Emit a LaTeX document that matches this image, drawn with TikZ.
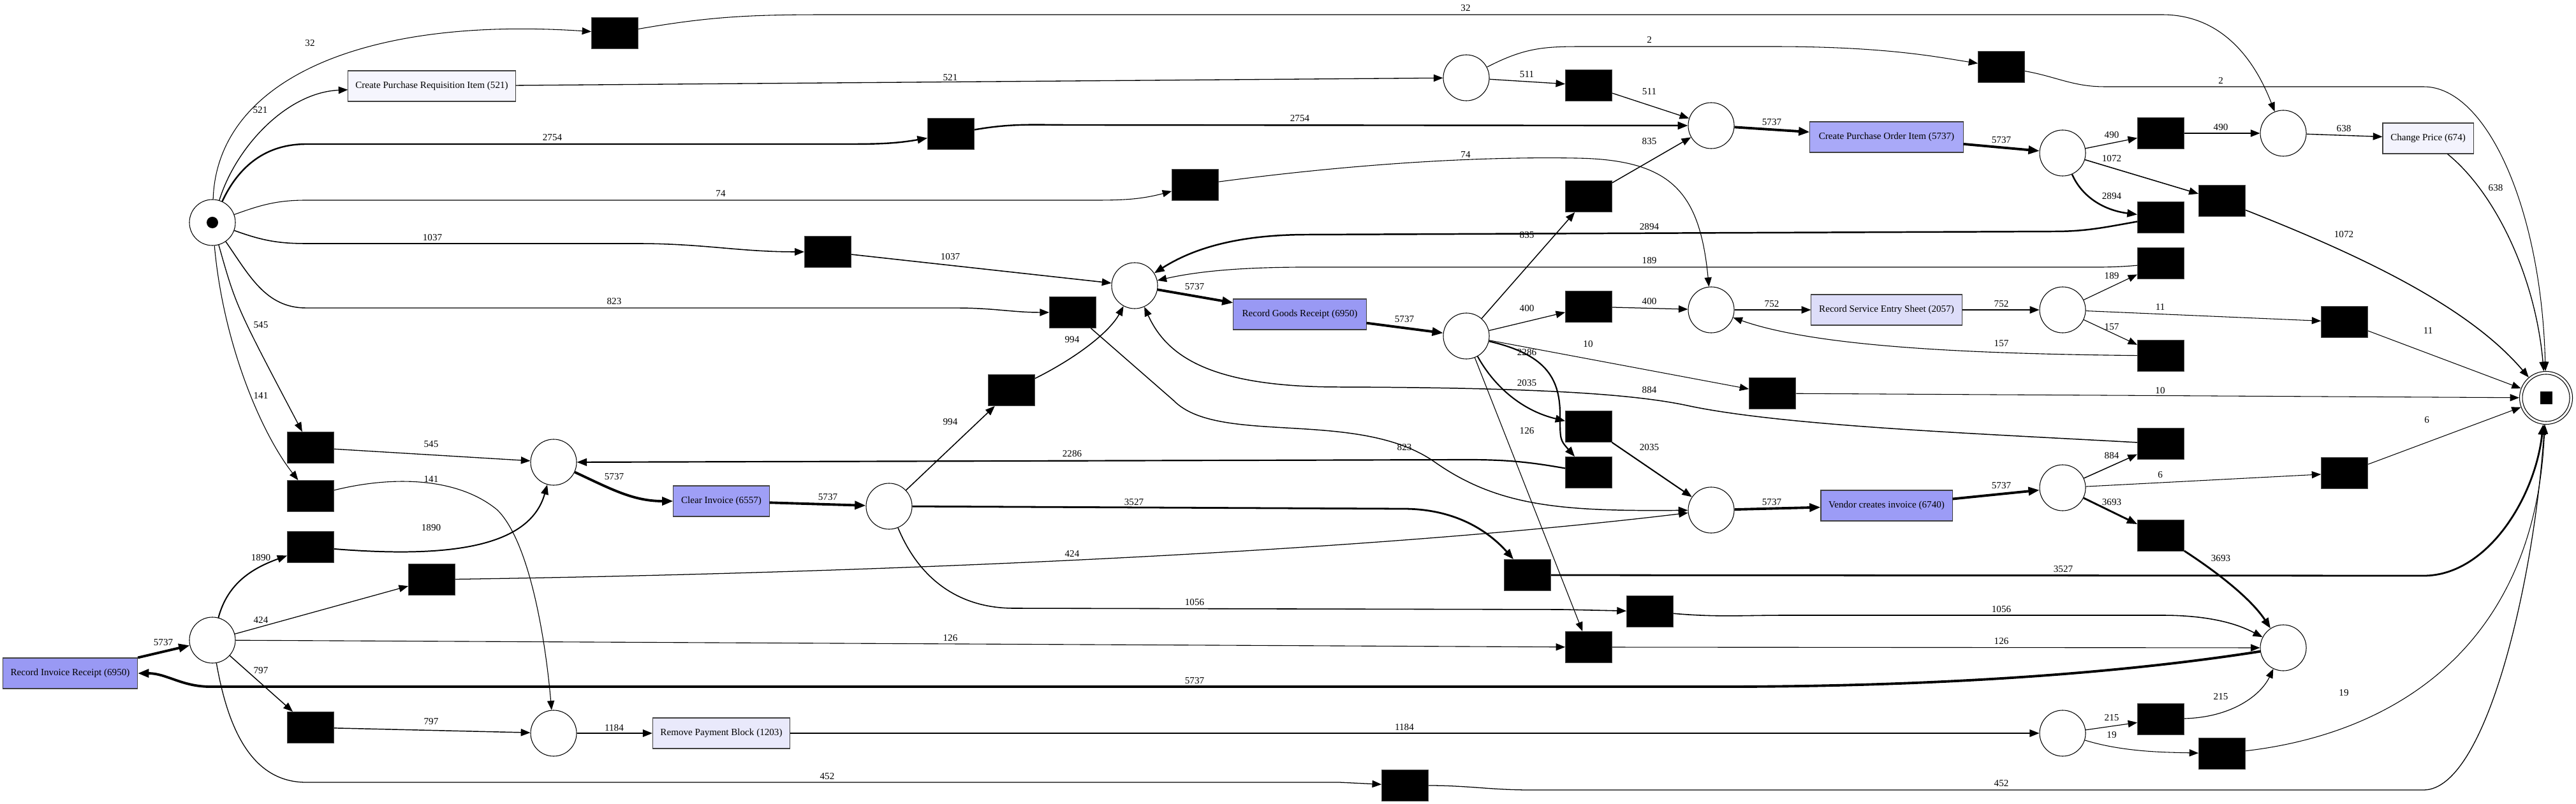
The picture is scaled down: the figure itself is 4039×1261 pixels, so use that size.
\documentclass[tikz,border=0pt]{standalone}
\usepackage{fontspec}
\setmainfont{Liberation Serif}
\usetikzlibrary{arrows.meta}
\definecolor{c521}{HTML}{F5F5FD}
\definecolor{c674}{HTML}{F3F3FD}
\definecolor{c1203}{HTML}{E9E9FB}
\definecolor{c2057}{HTML}{DDDDF9}
\definecolor{c5737}{HTML}{A9A9F8}
\definecolor{c6557}{HTML}{9F9FF6}
\definecolor{c6740}{HTML}{9C9CF6}
\definecolor{c6950}{HTML}{9999F4}

\begin{document}
\begin{tikzpicture}[x=0.01cm,y=-0.01cm,
  every node/.style={font=\fontsize{4.3}{5}\selectfont},
  place/.style={circle,draw,line width=0.3pt,minimum size=0.72cm,inner sep=0pt},
  trans/.style={rectangle,fill=black,draw=black!70,line width=0.2pt,minimum width=0.73cm,minimum height=0.49cm,inner sep=0pt},
  act/.style={rectangle,draw=black!75,line width=0.3pt,minimum height=0.48cm,inner sep=0pt},
  lbl/.style={inner sep=0pt},
  ew/.style={line width={0.3pt+0.8pt*#1/5737}},
  >={Triangle[length=3.8pt 1,width=3pt 0.6]}]
  \useasboundingbox (0,0) rectangle (4039,1261);

  % places
  \node[place] (src) at (333,349) {};
  \node[circle,fill=black,inner sep=0pt,minimum size=0.18cm] (tok) at (src) {};
  \node[place] (p1) at (2299,122) {};
  \node[place] (p2) at (2683,197) {};
  \node[place] (p3) at (3580,209) {};
  \node[place] (p4) at (3234,240) {};
  \node[place] (p5) at (868,725) {};
  \node[place] (p6) at (1779,448) {};
  \node[place] (p7) at (1394,794) {};
  \node[place] (p8) at (2299,527) {};
  \node[place] (p9) at (2683,486) {};
  \node[place] (p10) at (2683,800) {};
  \node[place] (p11) at (3234,486) {};
  \node[place] (p12) at (3234,765) {};
  \node[place] (p13) at (333,1004) {};
  \node[place] (p14) at (868,1150) {};
  \node[place] (p15) at (3580,1016) {};
  \node[place] (p16) at (3234,1150) {};
  \node[place,minimum size=0.83cm] (sink) at (3992,624) {};
  \node[place,minimum size=0.74cm] (sinkin) at (sink) {};
  \node[fill=black,inner sep=0pt,minimum size=0.19cm] (sinkdot) at (sink) {};

  % silent transitions
  \node[trans] (t32) at (964,52) {};
  \node[trans] (t2754) at (1491,210) {};
  \node[trans] (t74) at (1874,290) {};
  \node[trans] (t1037) at (1298,395) {};
  \node[trans] (t823) at (1682,490) {};
  \node[trans] (t545) at (487,702) {};
  \node[trans] (t141) at (487,778) {};
  \node[trans] (t1890) at (487,858) {};
  \node[trans] (t424) at (677,909) {};
  \node[trans] (t797) at (487,1141) {};
  \node[trans] (t511) at (2491,134) {};
  \node[trans] (t2) at (3138,105) {};
  \node[trans] (t835) at (2491,308) {};
  \node[trans] (t994) at (1586,612) {};
  \node[trans] (t490) at (3388,209) {};
  \node[trans] (t1072) at (3484,315) {};
  \node[trans] (t2894) at (3388,341) {};
  \node[trans] (t189) at (3388,413) {};
  \node[trans] (t11) at (3676,505) {};
  \node[trans] (t157) at (3388,558) {};
  \node[trans] (t400) at (2491,481) {};
  \node[trans] (t10) at (2779,617) {};
  \node[trans] (t2035) at (2491,669) {};
  \node[trans] (t2286) at (2491,741) {};
  \node[trans] (t884) at (3388,696) {};
  \node[trans] (t6) at (3676,742) {};
  \node[trans] (t3693) at (3388,840) {};
  \node[trans] (t3527) at (2395,902) {};
  \node[trans] (t1056) at (2587,959) {};
  \node[trans] (t126) at (2491,1015) {};
  \node[trans] (t452) at (2203,1232) {};
  \node[trans] (t215) at (3388,1128) {};
  \node[trans] (t19) at (3484,1182) {};

  % activities
  \node[act,fill=c521,minimum width=2.62cm] (cpr) at (677,135) {Create Purchase Requisition Item (521)};
  \node[act,fill=c5737,minimum width=2.40cm] (cpo) at (2958,215) {Create Purchase Order Item (5737)};
  \node[act,fill=c674,minimum width=1.42cm] (cp) at (3807,217) {Change Price (674)};
  \node[act,fill=c6950,minimum width=2.08cm] (rgr) at (2038,493) {Record Goods Receipt (6950)};
  \node[act,fill=c2057,minimum width=2.36cm] (rses) at (2958,486) {Record Service Entry Sheet (2057)};
  \node[act,fill=c6557,minimum width=1.50cm] (ci) at (1131,786) {Clear Invoice (6557)};
  \node[act,fill=c6740,minimum width=2.06cm] (vci) at (2958,793) {Vendor creates invoice (6740)};
  \node[act,fill=c6950,minimum width=2.11cm] (rir) at (110,1056) {Record Invoice Receipt (6950)};
  \node[act,fill=c1203,minimum width=2.15cm] (rpb) at (1131,1150) {Remove Payment Block (1203)};

  % arcs out of the start place
  \draw[->,ew=32] (src) .. controls (340,130) and (560,25) .. (t32);
  \draw[->,ew=521] (src) .. controls (370,230) and (450,145) .. (cpr);
  \draw[->,ew=2754] (src) to[out=65,in=180] (480,226) -- (1330,226) to[out=0,in=190] (t2754);
  \draw[->,ew=74] (src) to[out=20,in=180] (480,314) -- (1690,314) to[out=0,in=195] (t74);
  \draw[->,ew=1037] (src) to[out=-20,in=180] (480,382) -- (1000,382) to[out=0,in=180] (t1037);
  \draw[->,ew=823] (src) to[out=-55,in=180] (480,483) -- (1500,483) to[out=0,in=180] (t823);
  \draw[->,ew=545] (src) .. controls (370,480) .. (t545);
  \draw[->,ew=141] (src) .. controls (350,540) and (410,680) .. (t141);

  % purchase order part
  \draw[->,ew=32] (t32) to[out=10,in=180] (1300,23) -- (3390,23) .. controls (3500,23) and (3545,120) .. (p3);
  \draw[->,ew=521] (cpr) -- (p1);
  \draw[->,ew=511] (p1) -- (t511);
  \draw[->,ew=511] (t511) -- (p2);
  \draw[->,ew=2] (p1) .. controls (2390,75) and (2420,73) .. (2480,73) -- (2780,73) .. controls (2960,73) and (3040,90) .. (t2);
  \draw[->,ew=2] (t2) to[out=-10,in=180] (3300,136) -- (3800,136) .. controls (3900,136) and (3985,330) .. (sink);
  \draw[->,ew=2754] (t2754) to[out=10,in=180] (1680,196) -- (p2);
  \draw[->,ew=835] (p8) -- (t835);
  \draw[->,ew=835] (t835) -- (p2);
  \draw[->,ew=5737] (p2) -- (cpo);
  \draw[->,ew=5737] (cpo) -- (p4);
  \draw[->,ew=490] (p4) -- (t490);
  \draw[->,ew=490] (t490) -- (p3);
  \draw[->,ew=638] (p3) -- (cp);
  \draw[->,ew=638] (cp) .. controls (3910,300) and (3975,430) .. (sink);
  \draw[->,ew=1072] (p4) -- (t1072);
  \draw[->,ew=1072] (t1072) .. controls (3700,400) and (3870,480) .. (sink);
  \draw[->,ew=2894] (p4) .. controls (3265,310) and (3300,330) .. (t2894);
  \draw[->,ew=2894] (t2894) to[out=190,in=0] (3220,363) -- (2050,368) .. controls (1940,368) and (1870,390) .. (p6);
  \draw[->,ew=74] (t74) .. controls (2100,260) and (2300,245) .. (2470,248) .. controls (2620,250) and (2665,300) .. (p9);
  \draw[->,ew=1037] (t1037) -- (p6);

  % goods receipt and service entry
  \draw[->,ew=5737] (p6) -- (rgr);
  \draw[->,ew=5737] (rgr) -- (p8);
  \draw[->,ew=400] (p8) -- (t400);
  \draw[->,ew=400] (t400) -- (p9);
  \draw[->,ew=752] (p9) -- (rses);
  \draw[->,ew=752] (rses) -- (p11);
  \draw[->,ew=189] (p11) -- (t189);
  \draw[->,ew=189] (t189) to[out=185,in=0] (3250,419) -- (2050,419) .. controls (1950,419) and (1880,425) .. (p6);
  \draw[->,ew=11] (p11) -- (t11);
  \draw[->,ew=11] (t11) -- (sink);
  \draw[->,ew=157] (p11) -- (t157);
  \draw[->,ew=157] (t157) .. controls (3100,555) and (2850,545) .. (p9);
  \draw[->,ew=10] (p8) -- (t10);
  \draw[->,ew=10] (t10) -- (sink);
  \draw[->,ew=2286] (p8) .. controls (2420,555) and (2446,590) .. (2446,650) .. controls (2446,690) .. (t2286);
  \draw[->,ew=2286] (t2286) to[out=170,in=0] (2300,721) -- (p5);
  \draw[->,ew=2035] (p8) .. controls (2345,610) and (2390,645) .. (t2035);
  \draw[->,ew=2035] (t2035) -- (p10);
  \draw[->,ew=126] (p8) -- (t126);

  % invoice part
  \draw[->,ew=545] (t545) -- (p5);
  \draw[->,ew=141] (t141) .. controls (620,745) and (720,750) .. (780,800) .. controls (830,850) and (855,1000) .. (p14);
  \draw[->,ew=5737] (p5) to[out=-25,in=180] (ci);
  \draw[->,ew=5737] (ci) -- (p7);
  \draw[->,ew=994] (p7) -- (t994);
  \draw[->,ew=994] (t994) .. controls (1690,560) and (1740,520) .. (p6);
  \draw[->,ew=823] (t823) -- (1840,628) .. controls (1910,700) and (2130,640) .. (2250,725) .. controls (2350,795) and (2450,802) .. (p10);
  \draw[->,ew=3527] (p7) -- (2200,798) .. controls (2290,798) and (2340,840) .. (t3527);
  \draw[->,ew=3527] (t3527) -- (3800,903) .. controls (3900,903) and (3975,780) .. (sink);
  \draw[->,ew=1056] (p7) .. controls (1440,905) and (1500,954) .. (1590,954) -- (2450,956) -- (t1056);
  \draw[->,ew=1056] (t1056) to[out=-5,in=180] (2800,965) -- (3390,965) .. controls (3480,965) and (3520,985) .. (p15);
  \draw[->,ew=126] (t126) -- (p15);
  \draw[->,ew=5737] (p10) -- (vci);
  \draw[->,ew=5737] (vci) -- (p12);
  \draw[->,ew=884] (p12) -- (t884);
  \draw[->,ew=884] (t884) .. controls (3100,680) and (2800,668) .. (2650,637) .. controls (2560,617) and (2400,608) .. (2100,607) .. controls (1900,607) and (1830,560) .. (p6);
  \draw[->,ew=6] (p12) -- (t6);
  \draw[->,ew=6] (t6) -- (sink);
  \draw[->,ew=3693] (p12) -- (t3693);
  \draw[->,ew=3693] (t3693) .. controls (3480,900) and (3530,940) .. (p15);
  \draw[->,ew=5737] (p15) .. controls (3300,1060) and (3000,1077) .. (2700,1077) -- (330,1077) to[out=180,in=0] (rir);
  \draw[->,ew=5737] (rir.north east) -- (p13);
  \draw[->,ew=1890] (p13) to[out=75,in=200] (t1890);
  \draw[->,ew=1890] (t1890) .. controls (700,875) and (830,860) .. (p5);
  \draw[->,ew=424] (p13) -- (t424);
  \draw[->,ew=424] (t424) .. controls (1300,900) and (2100,870) .. (p10);
  \draw[->,ew=126] (p13) -- (t126);
  \draw[->,ew=797] (p13) -- (t797);
  \draw[->,ew=797] (t797) -- (p14);
  \draw[->,ew=452] (p13) to[out=-80,in=180] (480,1227) -- (2100,1227) -- (t452);
  \draw[->,ew=452] (t452) to[out=0,in=180] (2400,1239) -- (3800,1239) .. controls (3900,1239) and (3975,900) .. (sink);
  \draw[->,ew=1184] (p14) -- (rpb);
  \draw[->,ew=1184] (rpb) -- (p16);
  \draw[->,ew=215] (p16) -- (t215);
  \draw[->,ew=215] (t215) .. controls (3500,1125) and (3545,1090) .. (p15);
  \draw[->,ew=19] (p16) .. controls (3330,1180) and (3400,1180) .. (t19);
  \draw[->,ew=19] (t19) .. controls (3760,1150) and (3975,1010) .. (sink);

  % arc labels
  \foreach \px/\py/\num in {486/68/32, 2298/13/32, 408/173/521, 1490/122/521, 866/216/2754,
      2038/186/2754, 1130/304/74, 2298/243/74, 678/373/1037, 1490/403/1037, 963/473/823,
      2202/702/823, 409/510/545, 676/697/545, 409/621/141, 676/752/141, 2394/117/511,
      2586/144/511, 2586/63/2, 3482/126/2, 2778/192/5737, 3138/220/5737, 3311/212/490,
      3482/200/490, 3675/202/638, 3913/295/638, 3311/249/1072, 3675/368/1072, 3311/308/2894,
      2586/356/2894, 2394/369/835, 2586/222/835, 3311/433/189, 2586/409/189, 1873/450/5737,
      2202/501/5737, 2394/484/400, 2586/473/400, 2778/477/752, 3138/477/752, 3387/482/11,
      3807/519/11, 3311/513/157, 3138/539/157, 2490/540/10, 3387/613/10, 2394/553/2286,
      1681/712/2286, 2394/601/2035, 2586/702/2035, 3311/715/884, 2586/612/884, 3387/745/6,
      3805/659/6, 2778/788/5737, 3138/762/5737, 3311/788/3693, 3482/876/3693, 1778/788/3527,
      3235/893/3527, 1873/945/1056, 3138/956/1056, 1490/1001/126, 2394/676/126, 3138/1006/126,
      1873/1068/5737, 963/1142/1184, 2202/1141/1184, 3311/1126/215, 3482/1093/215,
      3311/1153/19, 3675/1087/19, 1297/1218/452, 3138/1229/452, 409/972/424, 1681/868/424,
      409/875/1890, 676/828/1890, 409/1052/797, 676/1132/797, 256/1008/5737, 963/748/5737,
      1298/780/5737, 1490/662/994, 1681/533/994}
    \node[lbl] (l\px-\py) at (\px,\py) {\num};
\end{tikzpicture}
\end{document}
